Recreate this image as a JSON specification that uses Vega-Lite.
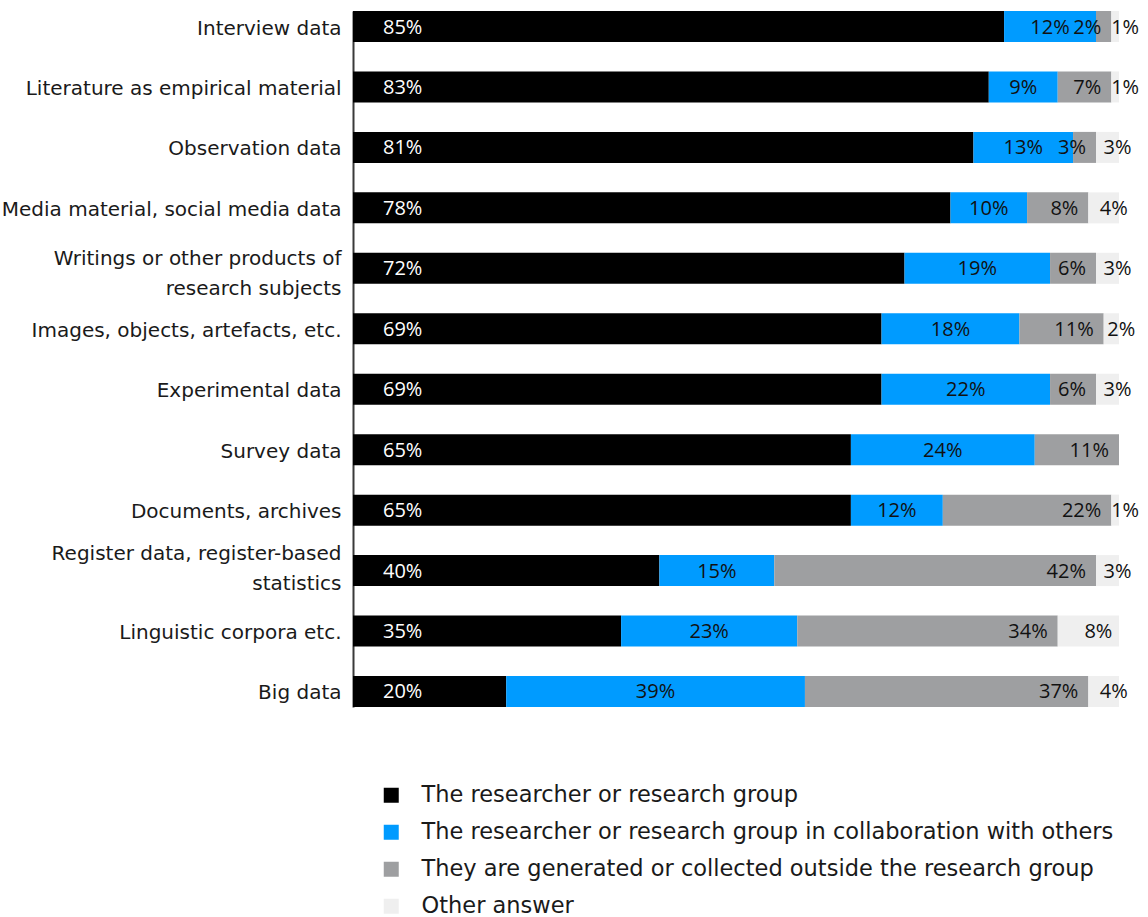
{
  "$schema": "https://vega.github.io/schema/vega-lite/v6.json",
  "autosize": {"type": "none"},
  "padding": {"left": 353, "top": 11, "right": 29, "bottom": 210},
  "width": 766,
  "height": 696,
  "background": "white",
  "config": {
    "view": {"stroke": null},
    "font": "Open Sans",
    "text": {"font": "Open Sans", "fontSize": 20},
    "axis": {"labelLineHeight": 30}
  },
  "data": {
    "values": [
      {"cat": "Interview data", "series": "The researcher or research group", "value": 85},
      {"cat": "Interview data", "series": "The researcher or research group in collaboration with others", "value": 12},
      {"cat": "Interview data", "series": "They are generated or collected outside the research group", "value": 2},
      {"cat": "Interview data", "series": "Other answer", "value": 1},
      {"cat": "Literature as empirical material", "series": "The researcher or research group", "value": 83},
      {"cat": "Literature as empirical material", "series": "The researcher or research group in collaboration with others", "value": 9},
      {"cat": "Literature as empirical material", "series": "They are generated or collected outside the research group", "value": 7},
      {"cat": "Literature as empirical material", "series": "Other answer", "value": 1},
      {"cat": "Observation data", "series": "The researcher or research group", "value": 81},
      {"cat": "Observation data", "series": "The researcher or research group in collaboration with others", "value": 13},
      {"cat": "Observation data", "series": "They are generated or collected outside the research group", "value": 3},
      {"cat": "Observation data", "series": "Other answer", "value": 3},
      {"cat": "Media material, social media data", "series": "The researcher or research group", "value": 78},
      {"cat": "Media material, social media data", "series": "The researcher or research group in collaboration with others", "value": 10},
      {"cat": "Media material, social media data", "series": "They are generated or collected outside the research group", "value": 8},
      {"cat": "Media material, social media data", "series": "Other answer", "value": 4},
      {"cat": "Writings or other products of research subjects", "series": "The researcher or research group", "value": 72},
      {"cat": "Writings or other products of research subjects", "series": "The researcher or research group in collaboration with others", "value": 19},
      {"cat": "Writings or other products of research subjects", "series": "They are generated or collected outside the research group", "value": 6},
      {"cat": "Writings or other products of research subjects", "series": "Other answer", "value": 3},
      {"cat": "Images, objects, artefacts, etc.", "series": "The researcher or research group", "value": 69},
      {"cat": "Images, objects, artefacts, etc.", "series": "The researcher or research group in collaboration with others", "value": 18},
      {"cat": "Images, objects, artefacts, etc.", "series": "They are generated or collected outside the research group", "value": 11},
      {"cat": "Images, objects, artefacts, etc.", "series": "Other answer", "value": 2},
      {"cat": "Experimental data", "series": "The researcher or research group", "value": 69},
      {"cat": "Experimental data", "series": "The researcher or research group in collaboration with others", "value": 22},
      {"cat": "Experimental data", "series": "They are generated or collected outside the research group", "value": 6},
      {"cat": "Experimental data", "series": "Other answer", "value": 3},
      {"cat": "Survey data", "series": "The researcher or research group", "value": 65},
      {"cat": "Survey data", "series": "The researcher or research group in collaboration with others", "value": 24},
      {"cat": "Survey data", "series": "They are generated or collected outside the research group", "value": 11},
      {"cat": "Documents, archives", "series": "The researcher or research group", "value": 65},
      {"cat": "Documents, archives", "series": "The researcher or research group in collaboration with others", "value": 12},
      {"cat": "Documents, archives", "series": "They are generated or collected outside the research group", "value": 22},
      {"cat": "Documents, archives", "series": "Other answer", "value": 1},
      {"cat": "Register data, register-based statistics", "series": "The researcher or research group", "value": 40},
      {"cat": "Register data, register-based statistics", "series": "The researcher or research group in collaboration with others", "value": 15},
      {"cat": "Register data, register-based statistics", "series": "They are generated or collected outside the research group", "value": 42},
      {"cat": "Register data, register-based statistics", "series": "Other answer", "value": 3},
      {"cat": "Linguistic corpora etc.", "series": "The researcher or research group", "value": 35},
      {"cat": "Linguistic corpora etc.", "series": "The researcher or research group in collaboration with others", "value": 23},
      {"cat": "Linguistic corpora etc.", "series": "They are generated or collected outside the research group", "value": 34},
      {"cat": "Linguistic corpora etc.", "series": "Other answer", "value": 8},
      {"cat": "Big data", "series": "The researcher or research group", "value": 20},
      {"cat": "Big data", "series": "The researcher or research group in collaboration with others", "value": 39},
      {"cat": "Big data", "series": "They are generated or collected outside the research group", "value": 37},
      {"cat": "Big data", "series": "Other answer", "value": 4}
    ]
  },
  "transform": [
    {"calculate": "indexof(['The researcher or research group', 'The researcher or research group in collaboration with others', 'They are generated or collected outside the research group', 'Other answer'], datum.series)", "as": "k"},
    {"stack": "value", "groupby": ["cat"], "sort": [{"field": "k", "order": "ascending"}], "as": ["v0", "v1"]},
    {"calculate": "(datum.v0 + datum.v1) / 2", "as": "vm"},
    {"calculate": "datum.value + '%'", "as": "label"}
  ],
  "encoding": {
    "y": {
      "field": "cat",
      "type": "nominal",
      "scale": {
        "domain": ["Interview data", "Literature as empirical material", "Observation data", "Media material, social media data", "Writings or other products of research subjects", "Images, objects, artefacts, etc.", "Experimental data", "Survey data", "Documents, archives", "Register data, register-based statistics", "Linguistic corpora etc.", "Big data"],
        "paddingInner": 0.487,
        "paddingOuter": 0
      },
      "axis": {
        "title": null,
        "ticks": false,
        "domain": true,
        "domainColor": "#3a3a3a",
        "domainWidth": 2,
        "labelFont": "DejaVu Sans",
        "labelFontSize": 20,
        "labelColor": "#1a1a1a",
        "labelPadding": 12,
        "labelLimit": 400,
        "labelExpr": "datum.value == 'Writings or other products of research subjects' ? ['Writings or other products of', 'research subjects'] : datum.value == 'Register data, register-based statistics' ? ['Register data, register-based', 'statistics'] : datum.value",
        "labelOffset": {
          "condition": [
            {"test": "datum.value == 'Writings or other products of research subjects'", "value": -9},
            {"test": "datum.value == 'Register data, register-based statistics'", "value": -17}
          ],
          "value": 2
        }
      }
    }
  },
  "layer": [
    {
      "mark": {"type": "bar"},
      "encoding": {
        "x": {"field": "v0", "type": "quantitative", "scale": {"domain": [0, 100], "nice": false}, "axis": null},
        "x2": {"field": "v1"},
        "color": {
          "field": "series",
          "type": "nominal",
          "scale": {
            "domain": ["The researcher or research group", "The researcher or research group in collaboration with others", "They are generated or collected outside the research group", "Other answer"],
            "range": ["#000000", "#009bff", "#9e9fa1", "#efefef"]
          },
          "legend": {
            "title": null,
            "orient": "none",
            "legendX": 27,
            "legendY": 773,
            "direction": "vertical",
            "symbolType": "square",
            "symbolSize": 225,
            "symbolStrokeWidth": 0,
            "labelFont": "DejaVu Sans",
            "labelFontSize": 22.5,
            "labelColor": "#1a1a1a",
            "labelOffset": 19,
            "rowPadding": 14,
            "labelLimit": 800
          }
        }
      }
    },
    {
      "transform": [{"filter": "datum.k == 0"}],
      "mark": {"type": "text", "align": "left", "dx": 30, "dy": 1, "color": "white", "fontSize": 20},
      "encoding": {
        "x": {"field": "v0", "type": "quantitative"},
        "text": {"field": "label"}
      }
    },
    {
      "transform": [{"filter": "datum.k == 1"}],
      "mark": {"type": "text", "align": "center", "dy": 1, "color": "#111111", "fontSize": 20},
      "encoding": {
        "x": {"field": "vm", "type": "quantitative"},
        "text": {"field": "label"}
      }
    },
    {
      "transform": [{"filter": "datum.k == 2"}],
      "mark": {"type": "text", "align": "right", "dx": -10, "dy": 1, "color": "#111111", "fontSize": 20},
      "encoding": {
        "x": {"field": "v1", "type": "quantitative"},
        "text": {"field": "label"}
      }
    },
    {
      "transform": [{"filter": "datum.k == 3"}],
      "mark": {"type": "text", "align": "center", "dx": 10, "dy": 1, "color": "#111111", "fontSize": 20},
      "encoding": {
        "x": {"field": "vm", "type": "quantitative"},
        "text": {"field": "label"}
      }
    }
  ]
}
